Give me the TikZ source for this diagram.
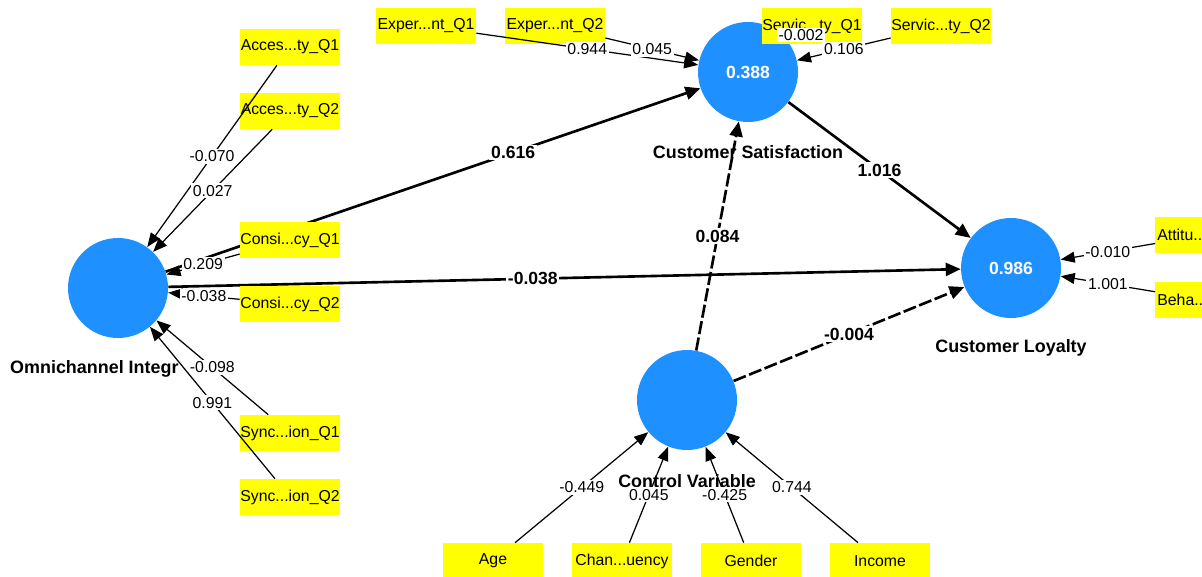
\documentclass[tikz,border=0pt]{standalone}
\usepackage{fontspec}
\setmainfont{Liberation Sans}
\usepackage{xcolor}
\usepackage{tikz}
\usetikzlibrary{arrows.meta}
\definecolor{bg}{HTML}{FFFFFF}
\definecolor{ink}{HTML}{000000}
\definecolor{lvblue}{HTML}{1E90FF}
\definecolor{mvyellow}{HTML}{FFFF00}
\tikzset{
  struct/.style={draw=ink, line width=1.5pt, -{Triangle[length=8.5pt,width=7.4pt]}},
  dstruct/.style={struct, dash pattern=on 7.5pt off 2pt},
  load/.style={draw=ink, line width=0.7pt, -{Triangle[length=8pt,width=6.2pt]}},
  lv/.style={circle, fill=lvblue, minimum size=2cm, inner sep=0pt, text=white, font=\fontsize{10}{12}\selectfont\bfseries},
  mv/.style={rectangle, fill=mvyellow, minimum width=2cm, minimum height=0.72cm, inner sep=0pt, text=ink, font=\fontsize{9}{11}\selectfont},
  lab/.style={text=ink, font=\fontsize{10.2}{12}\selectfont\bfseries},
  labs/.style={fill=bg, inner sep=1pt, text=ink, font=\fontsize{9}{11}\selectfont},
  labp/.style={fill=bg, inner sep=1pt, text=ink, font=\fontsize{10}{12}\selectfont\bfseries},
}

\begin{document}
\begin{tikzpicture}[x=0.02cm, y=-0.02cm]
  \useasboundingbox (0,0) rectangle (1202,577);
  \clip (0,0) rectangle (1202,577);
  \fill[bg] (0,0) rectangle (1202,577);

  % constructs
  \node[lv] (oi) at (118,288) {};
  \node[lv] (cs) at (748,72) {0.388};
  \node[lv] (cl) at (1011,268) {0.986};
  \node[lv] (cv) at (687,400) {};
  \node[lab, anchor=west] (oiname) at (4,369) {Omnichannel Integr};
  \node[lab] (csname) at (748,152) {Customer Satisfaction};
  \node[lab] (clname) at (1011,348) {Customer Loyalty};
  \node[lab] (cvname) at (687,481) {Control Variable};

  % inner model
  \draw[struct] (oi) -- node[labp, pos=0.65] (p1) {0.616} (cs);
  \draw[struct] (oi) -- node[labp, pos=0.46] (p2) {-0.038} (cl);
  \draw[struct] (cs) -- node[labp] (p3) {1.016} (cl);
  \draw[dstruct] (cv) -- node[labp] (p4) {0.084} (cs);
  \draw[dstruct] (cv) -- node[labp] (p5) {-0.004} (cl);

  % indicator boxes
  \def\xL{290}
  \def\yT{26}
  \def\yB{561}
  \node[mv] (acc1) at (\xL,47) {Acces...ty\_Q1};
  \node[mv] (acc2) at (\xL,111) {Acces...ty\_Q2};
  \node[mv] (con1) at (\xL,240) {Consi...cy\_Q1};
  \node[mv] (con2) at (\xL,304) {Consi...cy\_Q2};
  \node[mv] (syn1) at (\xL,433) {Sync...ion\_Q1};
  \node[mv] (syn2) at (\xL,497) {Sync...ion\_Q2};

  \node[mv] (exp1) at (426,\yT) {Exper...nt\_Q1};
  \node[mv] (exp2) at (555,\yT) {Exper...nt\_Q2};
  \node[mv] (ser1) at (812,\yT) {Servic...ty\_Q1};
  \node[mv] (ser2) at (941,\yT) {Servic...ty\_Q2};

  \node[mv, anchor=west, text width=1.92cm, inner xsep=0.04cm, align=left] (att) at (1155,235) {Attitu...};
  \node[mv, anchor=west, text width=1.92cm, inner xsep=0.04cm, align=left] (beh) at (1155,300) {Beha...};

  \node[mv] (age) at (493,\yB) {Age};
  \node[mv] (chan) at (622,\yB) {Chan...uency};
  \node[mv] (gen) at (751,\yB) {Gender};
  \node[mv] (inc) at (880,\yB) {Income};

  % outer weights
  \draw[load] (acc1) -- node[labs] {-0.070} (oi);
  \draw[load] (acc2) -- node[labs] {0.027} (oi);
  \draw[load] (con1) -- node[labs] {0.209} (oi);
  \draw[load] (con2) -- node[labs] {-0.038} (oi);
  \draw[load] (syn1) -- node[labs] {-0.098} (oi);
  \draw[load] (syn2) -- node[labs] {0.991} (oi);

  \draw[load] (exp1) -- node[labs] {0.944} (cs);
  \draw[load] (exp2) -- node[labs] {0.045} (cs);
  \node[labs] (ser1w) at (801,35) {-0.002};
  \draw[load] (ser2) -- node[labs] {0.106} (cs);

  \draw[load] (att) -- node[labs] {-0.010} (cl);
  \draw[load] (beh) -- node[labs] {1.001} (cl);

  \draw[load] (age) -- node[labs] {-0.449} (cv);
  \draw[load] (chan) -- node[labs] {0.045} (cv);
  \draw[load] (gen) -- node[labs] {-0.425} (cv);
  \draw[load] (inc) -- node[labs] {0.744} (cv);
\end{tikzpicture}
\end{document}
